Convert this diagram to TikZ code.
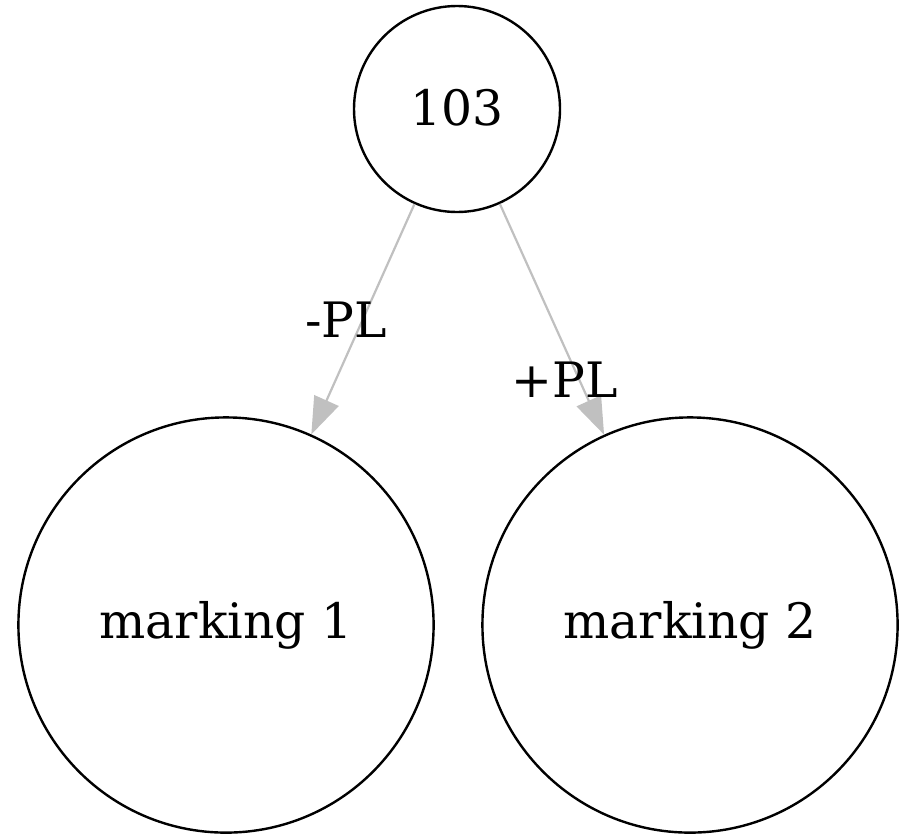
\documentclass[tikz,border=0pt]{standalone}
\usepackage{fontspec}
\setmainfont{DejaVu Serif}
\usetikzlibrary{arrows.meta}
\begin{document}
\begin{tikzpicture}[x=0.25pt,y=-0.25pt,
  state/.style={circle,draw=black,line width=0.6pt,inner sep=0pt,font=\fontsize{12.2}{14}\selectfont},
  small/.style={state,minimum size=51.5pt},
  big/.style={state,minimum size=103.8pt},
  trans/.style={draw={rgb,255:red,192;green,192;blue,192},line width=0.55pt,
    -{Triangle[length=9.3pt,width=6.6pt]}},
  lbl/.style={inner sep=0pt,font=\fontsize{12.2}{14}\selectfont}]
  \useasboundingbox (0,0) rectangle (906,835);
  \node[small] (s103) at (457,109) {\raisebox{1pt}{103}};
  \node[big] (m1) at (226,625) {marking 1};
  \node[big] (m2) at (690,625) {marking 2};
  \draw[trans] (s103) -- (m1);
  \draw[trans] (s103) -- (m2);
  \node[lbl] (l1) at (346,320) {-PL};
  \node[lbl] (l2) at (565,380) {+PL};
\end{tikzpicture}
\end{document}
